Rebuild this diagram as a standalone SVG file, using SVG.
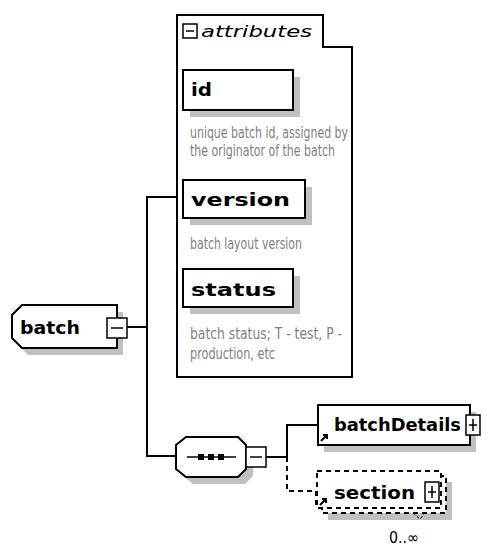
<svg xmlns="http://www.w3.org/2000/svg" width="501" height="547" viewBox="0 0 501 547">
<style>
.ln{fill:none;stroke:#000;stroke-width:2}
.dash{fill:none;stroke:#000;stroke-width:2;stroke-dasharray:5,4}
.box{fill:#fff;stroke:#000;stroke-width:2}
.sh{fill:#c0c0c0}
.lbl{font-family:"DejaVu Sans",sans-serif;font-weight:bold;font-size:17px;fill:#000}
.desc{font-family:"DejaVu Sans",sans-serif;font-size:15px;fill:#808080}
.it{font-family:"DejaVu Sans",sans-serif;font-style:italic;font-size:15px;fill:#000}
.sm{fill:#fff;stroke:#000;stroke-width:1.5}
</style>
<rect width="501" height="547" fill="#fff"/>
<g id="connectors">
<polyline class="ln" points="127,327 147,327"/>
<polyline class="ln" points="177,197 147,197 147,456 176,456"/>
<polyline class="ln" points="266,457 287,457 287,425 318,425"/>
<polyline class="dash" points="287,457 287,491 316,491 316,505"/>
</g>
<g id="attributes">
<path class="ln" d="M177,377 V15 H323 V47 H352 V377 Z" fill="#fff"/>
<rect x="183" y="24" width="14" height="14" class="sm"/>
<line x1="186" y1="31" x2="194" y2="31" stroke="#000" stroke-width="1.5"/>
<text class="it" x="201" y="37" textLength="111" lengthAdjust="spacingAndGlyphs">attributes</text>
</g>
<g id="attr-id">
<rect class="sh" x="190" y="77" width="110" height="40"/>
<rect class="box" x="183" y="70" width="110" height="40"/>
<text class="lbl" x="191" y="96" textLength="21" lengthAdjust="spacingAndGlyphs">id</text>
<text class="desc" x="190" y="138" textLength="158" lengthAdjust="spacingAndGlyphs">unique batch id, assigned by</text>
<text class="desc" x="190" y="156" textLength="145" lengthAdjust="spacingAndGlyphs">the originator of the batch</text>
</g>
<g id="attr-version">
<rect class="sh" x="190" y="187" width="122" height="38"/>
<rect class="box" x="183" y="180" width="122" height="38"/>
<text class="lbl" x="191" y="206" textLength="99" lengthAdjust="spacingAndGlyphs">version</text>
<text class="desc" x="190" y="249" textLength="112" lengthAdjust="spacingAndGlyphs">batch layout version</text>
</g>
<g id="attr-status">
<rect class="sh" x="190" y="276" width="110" height="38"/>
<rect class="box" x="183" y="269" width="110" height="38"/>
<text class="lbl" x="191" y="296" textLength="85" lengthAdjust="spacingAndGlyphs">status</text>
<text class="desc" x="190" y="339" textLength="152" lengthAdjust="spacingAndGlyphs">batch status; T - test, P -</text>
<text class="desc" x="190" y="359" textLength="85" lengthAdjust="spacingAndGlyphs">production, etc</text>
</g>
<g id="batch">
<path class="sh" d="M28,312 H123 V355 H28 L18,345 V322 Z"/>
<path class="box" d="M22,305 H117 V348 H22 L12,338 V315 Z"/>
<text class="lbl" x="20" y="334" textLength="60" lengthAdjust="spacingAndGlyphs">batch</text>
<rect x="107" y="318" width="20" height="20" class="sm"/>
<line x1="111" y1="328" x2="123" y2="328" stroke="#000" stroke-width="1.5"/>
</g>
<g id="sequence">
<path class="sh" d="M193,444 H245 L253,452 V476 L245,484 H193 L183,476 V452 Z"/>
<path class="box" d="M186,437 H238 L246,445 V469 L238,477 H186 L176,469 V445 Z"/>
<line x1="187" y1="457" x2="236" y2="457" stroke="#000" stroke-width="1.5"/>
<rect x="198" y="454" width="6" height="6" fill="#000"/>
<rect x="208" y="454" width="6" height="6" fill="#000"/>
<rect x="218" y="454" width="6" height="6" fill="#000"/>
<rect x="246" y="447" width="20" height="20" class="sm"/>
<line x1="250" y1="457" x2="262" y2="457" stroke="#000" stroke-width="1.5"/>
</g>
<g id="batchDetails">
<rect class="sh" x="324" y="412" width="152" height="40"/>
<rect class="box" x="318" y="405" width="152" height="40"/>
<text class="lbl" x="334" y="431" textLength="127" lengthAdjust="spacingAndGlyphs">batchDetails</text>
<path d="M321,441 L327,435 M323,435 H327 V439" stroke="#000" stroke-width="2" fill="none"/>
<rect x="466" y="415" width="14" height="20" class="sm"/>
<path d="M469,425 H477 M473,419 V431" stroke="#000" stroke-width="1.5"/>
</g>
<g id="section">
<rect class="sh" x="328" y="482" width="124" height="38"/>
<rect x="322" y="476" width="124" height="37" fill="#fff" stroke="#000" stroke-width="2" stroke-dasharray="5,4"/>
<rect x="317" y="471" width="124" height="37" fill="#fff" stroke="#000" stroke-width="2" stroke-dasharray="5,4"/>
<text class="lbl" x="334" y="499" textLength="81" lengthAdjust="spacingAndGlyphs">section</text>
<path d="M320,505 L326,499 M322,499 H326 V503" stroke="#000" stroke-width="2" fill="none"/>
<rect x="425" y="482" width="14" height="20" class="sm"/>
<path d="M428,492 H436 M432,486 V498" stroke="#000" stroke-width="1.5"/>
<path d="M413,513 L420,519 L426,512" fill="none" stroke="#000" stroke-width="1" stroke-dasharray="3,2"/>
<text x="389" y="543" font-family="DejaVu Sans, sans-serif" font-size="16" fill="#000" textLength="30" lengthAdjust="spacingAndGlyphs">0..∞</text>
</g>
</svg>
